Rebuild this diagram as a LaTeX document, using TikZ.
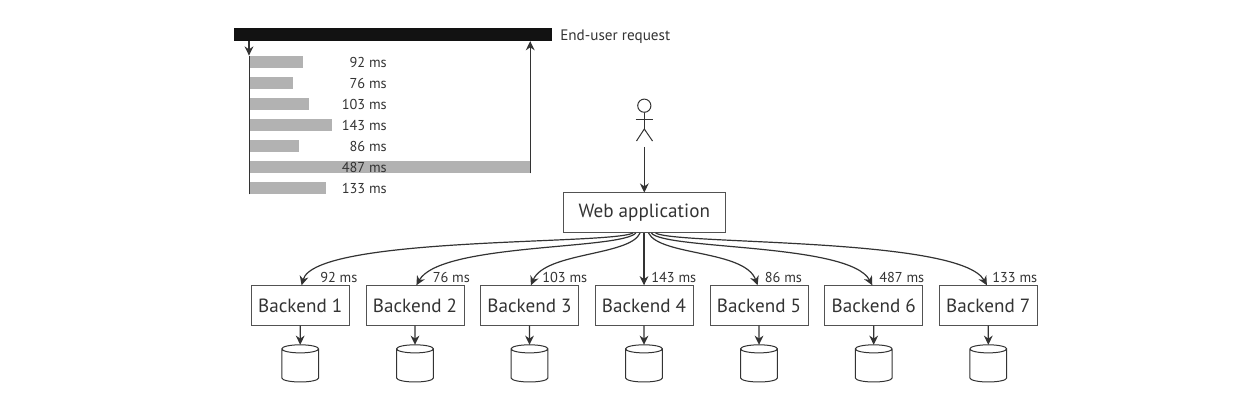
\documentclass[tikz,border=0pt]{standalone}
\usepackage{fontspec}
\setmainfont{PT Sans}
\usepackage{tikz}
\usetikzlibrary{arrows.meta}
\usetikzlibrary{shapes.geometric}

\definecolor{ink}{HTML}{333333}
\definecolor{barfill}{HTML}{B2B2B2}

\begin{document}
\begin{tikzpicture}[x=0.25mm, y=-0.25mm,
        flow/.style={draw=ink, line width=0.3mm, -{Stealth[length=2.3mm, width=2.2mm]}},
        stick/.style={draw=ink, line width=0.25mm},
        box/.style={draw=ink!85, line width=0.25mm, text=ink, font=\fontsize{13.6}{15}\selectfont, inner sep=0pt, outer sep=0pt, minimum width=24.5mm, minimum height=10.1mm},
        bar/.style={fill=barfill, inner sep=0pt, outer sep=0pt, minimum height=3.2mm, anchor=west},
        ms/.style={text=ink, font=\fontsize{10.2}{12}\selectfont, inner sep=0pt, anchor=base east},
        tag/.style={text=ink, font=\fontsize{10.2}{12}\selectfont, inner sep=0pt, anchor=base west},
        db/.style={cylinder, shape border rotate=90, aspect=0.22, draw=ink, line width=0.25mm, inner xsep=4.6mm, inner ysep=0pt, outer sep=0pt, minimum width=9.2mm, minimum height=9.3mm, anchor=south}]
            \useasboundingbox (0,0) rectangle (1240,410);

            % request timeline
            \node[fill=black!93, inner sep=0pt, outer sep=0pt, minimum width=79.6mm, minimum height=3.3mm] (request) at (392.75,34.5) {};
            \node[tag, anchor=west, font=\fontsize{10.8}{12}\selectfont] (requestlabel) at (560,36.5) {End-user request};

            \node[bar, minimum width=13.4mm] (bar1) at (249,62) {};
            \node[bar, minimum width=11mm] (bar2) at (249,83) {};
            \node[bar, minimum width=15mm] (bar3) at (249,104) {};
            \node[bar, minimum width=20.7mm] (bar4) at (249,125) {};
            \node[bar, minimum width=12.5mm] (bar5) at (249,146) {};
            \node[bar, minimum width=70.3mm] (bar6) at (249,167) {};
            \node[bar, minimum width=19.3mm] (bar7) at (249,188) {};

            \node[ms] (time1) at (387,67.5) {92 ms};
            \node[ms] (time2) at (387,88.5) {76 ms};
            \node[ms] (time3) at (387,109.5) {103 ms};
            \node[ms] (time4) at (387,130.5) {143 ms};
            \node[ms] (time5) at (387,151.5) {86 ms};
            \node[ms] (time6) at (387,172.5) {487 ms};
            \node[ms] (time7) at (387,193.5) {133 ms};

            \draw[stick] (bar7.south west) -- (bar1.north west);
            \draw[flow] (request.south -| bar1.west) -- (bar1.north west);
            \draw[flow] (bar6.south east) -- (bar6.east |- request.south);

            % user
            \node[circle, stick, fill=white, inner sep=0pt, minimum size=3.3mm] (head) at (644.3,105.7) {};
            \coordinate (hip) at (644.3,129);
            \coordinate (armL) at (635.5,119.5);
            \coordinate (armR) at (653.2,119.5);
            \coordinate (legL) at (636.5,141);
            \coordinate (legR) at (652.5,141);
            \coordinate (foot) at (644.3,147);
            \draw[stick] (head) -- (hip);
            \draw[stick] (armL) -- (armR);
            \draw[stick] (legL) -- (hip) -- (legR);

            % services
            \node[box, minimum width=40.6mm] (web) at (644.3,212.8) {Web application};
            \node[box] (back1) at (300.2,305.5) {Backend 1};
            \node[box] (back2) at (415,305.5) {Backend 2};
            \node[box] (back3) at (529.5,305.5) {Backend 3};
            \node[box] (back4) at (644,305.5) {Backend 4};
            \node[box] (back5) at (759,305.5) {Backend 5};
            \node[box] (back6) at (873.7,305.5) {Backend 6};
            \node[box] (back7) at (988.3,305.5) {Backend 7};

            \node[db] (db1) at (300.2,382) {};
            \node[db] (db2) at (415,382) {};
            \node[db] (db3) at (529.5,382) {};
            \node[db] (db4) at (644,382) {};
            \node[db] (db5) at (759,382) {};
            \node[db] (db6) at (873.7,382) {};
            \node[db] (db7) at (988.3,382) {};

            \draw[flow] (foot) -- (web.north -| foot);

            \draw[flow] ([xshift=-8pt]web.south) .. controls (610,245) and (315,236) .. ([xshift=1pt]back1.north);
            \draw[flow] ([xshift=-6pt]web.south) .. controls (620,250) and (440,243) .. ([xshift=1pt]back2.north);
            \draw[flow] ([xshift=-3pt]web.south) .. controls (630,256) and (545,252) .. ([xshift=1pt]back3.north);
            \draw[flow] (web.south -| back4) -- (back4.north);
            \draw[flow] ([xshift=3pt]web.south) .. controls (660,256) and (745,250) .. ([xshift=-1pt]back5.north);
            \draw[flow] ([xshift=5pt]web.south) .. controls (665,250) and (850,243) .. ([xshift=-1pt]back6.north);
            \draw[flow] ([xshift=8pt]web.south) .. controls (675,245) and (960,237) .. ([xshift=-1pt]back7.north);

            \node[tag] (lat1) at (320,282.5) {92 ms};
            \node[tag] (lat2) at (432.5,282.5) {76 ms};
            \node[tag] (lat3) at (542,282.5) {103 ms};
            \node[tag] (lat4) at (651,282.5) {143 ms};
            \node[tag] (lat5) at (764.5,282.5) {86 ms};
            \node[tag] (lat6) at (879,282.5) {487 ms};
            \node[tag] (lat7) at (992,282.5) {133 ms};

            \draw[flow] (back1) -- (db1.north);
            \draw[flow] (back2) -- (db2.north);
            \draw[flow] (back3) -- (db3.north);
            \draw[flow] (back4) -- (db4.north);
            \draw[flow] (back5) -- (db5.north);
            \draw[flow] (back6) -- (db6.north);
            \draw[flow] (back7) -- (db7.north);
        \end{tikzpicture}
\end{document}
